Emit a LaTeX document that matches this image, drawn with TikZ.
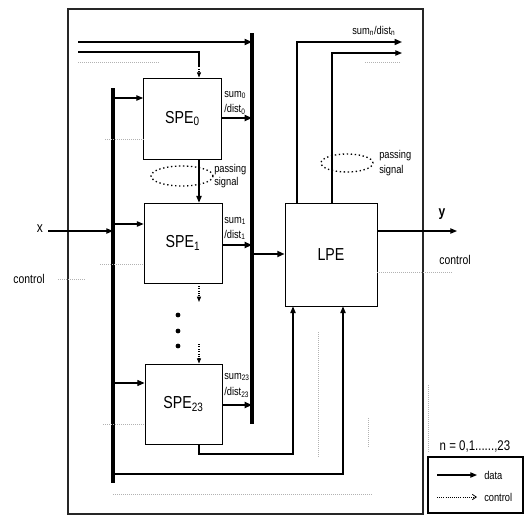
\documentclass[tikz,border=0pt]{standalone}
\usepackage{fontspec}
\setmainfont{Liberation Sans}[FakeStretch=0.82]
\usetikzlibrary{arrows.meta,shapes.geometric}
\tikzset{
  frame/.style={draw=black!85, line width=0.8pt},
  pebox/.style={draw, line width=0.6pt, inner sep=0pt, font=\fontsize{13}{13}\selectfont},
  bus/.style={line width=2.4pt},
  arr/.style={line width=0.8pt, -{Triangle[length=5pt,width=4pt]}},
  thickarr/.style={line width=1.4pt, -{Triangle[length=5.5pt,width=4.5pt]}},
  ctlarr/.style={line width=0.8pt, densely dotted, -{Triangle[length=4pt,width=3pt]}},
  faint/.style={draw=black!30, line width=0.5pt, densely dotted},
  lbl/.style={font=\fontsize{8.5}{9}\selectfont, inner sep=0pt},
  oval/.style={ellipse, draw, dotted, line width=1pt, inner sep=0pt},
  dot/.style={circle, fill, inner sep=0pt, minimum size=3.6pt}
}
\begin{document}
\begin{tikzpicture}[x=0.75pt,y=-0.75pt]
\useasboundingbox (0,0) rectangle (526,518);
% outer frame
\draw[frame] (68,9) rectangle (423,514);

% boxes
\node[pebox, minimum width=58.5pt, minimum height=60.75pt] (s0) at (182.5,118.5) {SPE\textsubscript{0}};
\node[pebox, minimum width=58.5pt, minimum height=60pt] (s1) at (183,243) {SPE\textsubscript{1}};
\node[pebox, minimum width=57.75pt, minimum height=60pt] (s23) at (183.5,404) {SPE\textsubscript{23}};
\node[pebox, minimum width=69pt, minimum height=77.25pt] (lpe) at (331,254.5) {LPE};

% buses
\coordinate (lbT) at (113,88);
\coordinate (lbB) at (113,483);
\coordinate (rbT) at (252,33);
\coordinate (rbB) at (252,424);
\draw[bus] (lbT) -- (lbB);
\draw[bus] (rbT) -- (rbB);

% top inputs
\coordinate (t1) at (78,42);
\coordinate (t2) at (78,52);
\coordinate (c0) at (199,0);
\draw[thickarr, line width=1.2pt] (t1) -- (rbT |- t1);
\draw[line width=1.1pt] (t2) -| (199,66);
\draw[ctlarr] (199,64) -- (s0.north -| c0);
\draw[faint] (78,62) -- (160,62);

% bus to SPEs
\coordinate (a0) at (113,98);
\coordinate (a1) at (113,224);
\coordinate (a23) at (113,383);
\draw[arr] (a0) -- (a0 -| s0.west);
\draw[arr] (a1) -- (a1 -| s1.west);
\draw[thickarr, line width=1pt] (a23) -- (a23 -| s23.west);

% SPE outputs to right bus
\coordinate (o0) at (0,118);
\coordinate (o1) at (0,245);
\coordinate (o23) at (0,405);
\draw[thickarr] (s0.east |- o0) -- (rbT |- o0);
\draw[thickarr] (s1.east |- o1) -- (rbT |- o1);
\draw[thickarr] (s23.east |- o23) -- (rbT |- o23);
\node[lbl, anchor=west] (l0a) at (224,95) {sum\textsubscript{0}};
\node[lbl, anchor=west] (l0b) at (224,109) {/dist\textsubscript{0}};
\node[lbl, anchor=west] (l1a) at (224,221) {sum\textsubscript{1}};
\node[lbl, anchor=west] (l1b) at (224,235) {/dist\textsubscript{1}};
\node[lbl, anchor=west] (l23a) at (224,377) {sum\textsubscript{23}};
\node[lbl, anchor=west] (l23b) at (224,392) {/dist\textsubscript{23}};

% passing signal chain
\draw[arr] (s0.south -| c0) -- (s1.north -| c0);
\coordinate (p1) at (199,302);
\coordinate (p2) at (199,344);
\draw[ctlarr] (s1.south -| c0) -- (p1);
\draw[ctlarr] (p2) -- (s23.north -| c0);
\node[dot] (d1) at (178,315) {};
\node[dot] (d2) at (178,331) {};
\node[dot] (d3) at (178,346) {};
\node[oval, minimum width=46.5pt, minimum height=15pt] (e0) at (182,176) {};
\node[lbl, anchor=west] (ps0a) at (214,170) {passing};
\node[lbl, anchor=west] (ps0b) at (214,183) {signal};

% x input
\coordinate (xin) at (48,231);
\node[font=\fontsize{11}{11}\selectfont, inner sep=0pt] (xl) at (40,229) {x};
\draw[arr] (xin) -- (lbT |- xin);
\node[font=\fontsize{9.5}{10}\selectfont, inner sep=0pt] (cl) at (29,279) {control};
\draw[faint] (58,279) -- (86,279);

% right bus to LPE
\coordinate (o4) at (0,254);
\draw[line width=1.6pt, -{Triangle[length=5.5pt,width=4.5pt]}] (rbT |- o4) -- (lpe.west |- o4);

% SPE23 bottom and left bus bottom to LPE
\coordinate (c3) at (293,454);
\coordinate (c4) at (343,474);
\draw[arr] (s23.south -| c0) |- (c3) -- (c3 |- lpe.south);
\draw[arr] (lbT |- c4) -| (c4 |- lpe.south);

% LPE top outputs
\coordinate (u1) at (297,0);
\coordinate (u2) at (332,0);
\coordinate (e1) at (402,42);
\coordinate (e2) at (402,53);
\draw[thickarr, line width=1.1pt] (lpe.north -| u1) |- (e1);
\draw[arr] (lpe.north -| u2) |- (e2);
\node[lbl, anchor=west] (sn) at (352,31) {sum\textsubscript{n}/dist\textsubscript{n}};
\draw[faint] (365,62) -- (400,62);
\node[oval, minimum width=39pt, minimum height=13.5pt] (e2o) at (347,163) {};
\node[lbl, anchor=west] (ps1a) at (379,156) {passing};
\node[lbl, anchor=west] (ps1b) at (379,171) {signal};

% y output
\coordinate (yo) at (457,231);
\draw[arr] (lpe.east |- yo) -- (yo);
\node[font=\fontsize{11}{11}\selectfont\bfseries, inner sep=0pt] (yl) at (442,214) {y};
\node[font=\fontsize{9.5}{10}\selectfont, inner sep=0pt] (cr) at (455,260) {control};
\draw[faint] (lpe.east |- 0,272) -- (452,272);

% faint control lines
\draw[faint] (105,139) -- (s0.west |- 0,139);
\draw[faint] (100,264) -- (s1.west |- 0,264);
\draw[faint] (103,424) -- (s23.west |- 0,424);
\draw[faint] (318,332) -- (318,458);
\draw[faint] (368,418) -- (368,447);
\draw[faint] (113,494) -- (372,494);
\draw[faint] (428,385) -- (428,452);

% legend
\node[font=\fontsize{10.5}{11}\selectfont, inner sep=0pt] (nn) at (475,447) {n = 0,1......,23};
\node[draw, line width=0.8pt, minimum width=71.25pt, minimum height=42pt, inner sep=0pt] (leg) at (475.5,485) {};
\coordinate (g1) at (437,475);
\coordinate (g2) at (477,475);
\coordinate (g3) at (437,497);
\coordinate (g4) at (477,497);
\draw[line width=0.8pt, -{Triangle[length=5pt,width=4pt]}] (g1) -- (g2);
\draw[line width=0.6pt, densely dotted, -{Straight Barb[length=3pt,width=4pt]}] (g3) -- (g4);
\node[lbl, anchor=west] (ld) at (484,475) {data};
\node[lbl, anchor=west] (lc) at (484,497) {control};
\end{tikzpicture}
\end{document}
